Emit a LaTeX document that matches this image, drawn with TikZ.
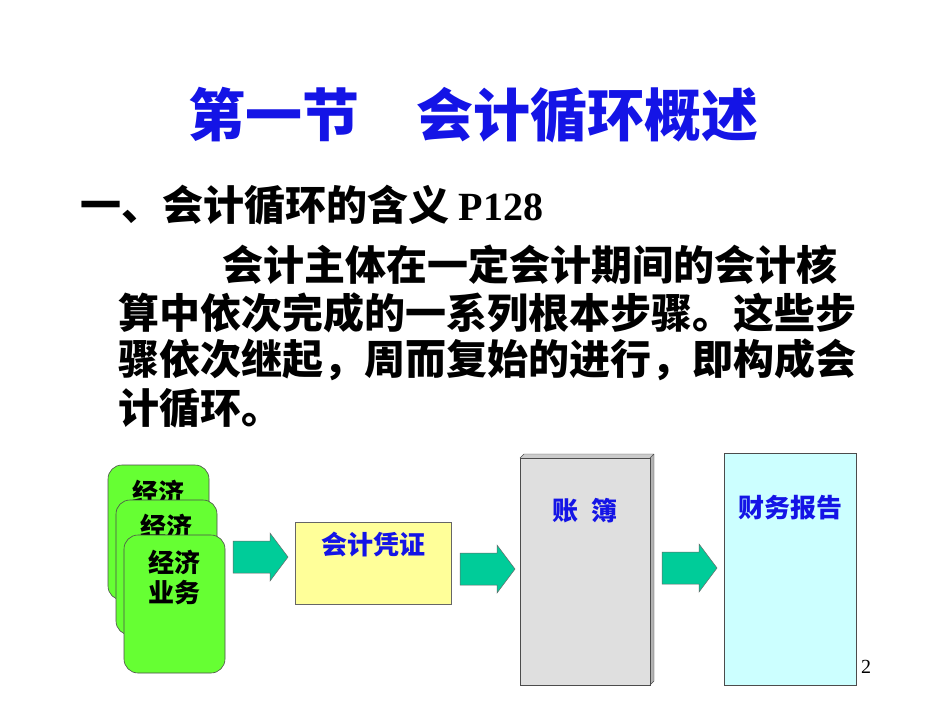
\documentclass[tikz,border=0pt]{standalone}
\usepackage{fontspec}
\setmainfont{Liberation Serif}
\newfontfamily\cjk{Noto Sans CJK SC}
\begin{document}
\begin{tikzpicture}[x=1pt,y=-1pt,
  card/.style={draw=black!70,rounded corners=14pt,line width=0.6pt},
  flow/.style={draw=black!60,line width=0.5pt},
  txt/.style={font=\cjk\bfseries\fontsize{41}{41}\selectfont,anchor=west,inner sep=0}]
\useasboundingbox (0,0) rectangle (950,713);
\fill[white] (0,0) rectangle (950,713);
\definecolor{tblue}{RGB}{20,20,230}
\definecolor{cgreen}{RGB}{102,255,51}
\definecolor{ag}{RGB}{0,204,153}
\definecolor{ly}{RGB}{255,255,153}
\definecolor{lc}{RGB}{204,255,255}
\node[font=\cjk\bfseries\fontsize{57}{57}\selectfont,text=tblue] (title) at (473,115) {第一节\hspace{1em}会计循环概述};
\node[txt] (sub) at (80,205) {一、会计循环的含义 {\rmfamily\bfseries\fontsize{40}{40}\selectfont P128}};
\node[txt] (l1) at (222,265) {会计主体在一定会计期间的会计核};
\node[txt] (l2) at (118,313) {算中依次完成的一系列根本步骤。这些步};
\node[txt] (l3) at (118,360) {骤依次继起，周而复始的进行，即构成会};
\node[txt] (l4) at (118,408) {计循环。};
% cards
\draw[card,fill=cgreen] (108,465) rectangle (209,600);
\node[font=\cjk\bfseries\fontsize{26}{26}\selectfont] (c1) at (158,492) {经济};
\draw[card,fill=cgreen] (116,500) rectangle (217,635);
\node[font=\cjk\bfseries\fontsize{26}{26}\selectfont] (c2) at (166,526) {经济};
\draw[card,fill=cgreen] (124,535) rectangle (225,673);
\node[font=\cjk\bfseries\fontsize{26}{30}\selectfont,align=center] (c3) at (174,578) {经济\\业务};
% arrows
\foreach \x/\y in {233/557,460/569,662/568}{
  \draw[flow,fill=ag] (\x,\y-16) -- (\x+37,\y-16) -- (\x+37,\y-24) -- (\x+55,\y) -- (\x+37,\y+24) -- (\x+37,\y+16) -- (\x,\y+16) -- cycle;
}
% voucher
\draw[draw=black!60,fill=ly,line width=0.6pt] (295,522) rectangle (451,604);
\node[font=\cjk\bfseries\fontsize{26}{26}\selectfont,text=tblue] (v) at (373,545) {会计凭证};
% ledger
\fill[gray!60] (650,458) -- (654,454) -- (654,681) -- (650,685) -- cycle;
\fill[gray!40] (520,458) -- (524,454) -- (654,454) -- (650,458) -- cycle;
\draw[draw=black!70,fill=gray!25,line width=0.6pt] (520,458) rectangle (650,685);
\draw[black!70,line width=0.4pt] (520,458) -- (524,454) -- (654,454) -- (654,681) -- (650,685) (650,458) -- (654,454);
\node[font=\cjk\bfseries\fontsize{26}{26}\selectfont,text=tblue] (b) at (585,511) {账\hspace{0.5em}簿};
% report
\draw[draw=black!70,fill=lc,line width=0.6pt] (724,453) rectangle (856,685);
\node[font=\cjk\bfseries\fontsize{26}{26}\selectfont,text=tblue] (r) at (790,508) {财务报告};
\node[font=\fontsize{20}{20}\selectfont] (pg) at (866,667) {2};
\end{tikzpicture}
\end{document}
